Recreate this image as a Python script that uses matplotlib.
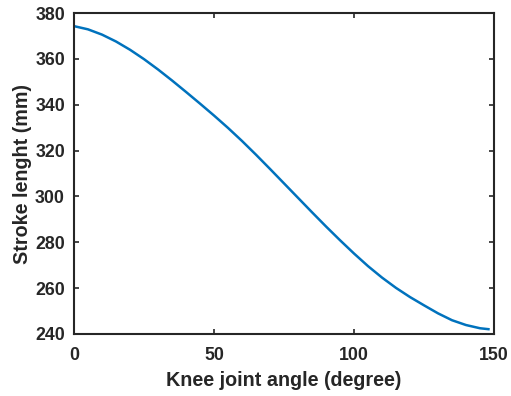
import numpy as np
import matplotlib
matplotlib.use("Agg")
import matplotlib.pyplot as plt

# knee joint angle (degree) and stroke length (mm)
angle = [0, 5, 10, 15, 20, 25, 30, 35, 40, 45, 50, 55, 60, 65, 70, 75,
         80, 85, 90, 95, 100, 105, 110, 115, 120, 125, 130, 135, 140, 145, 148]
stroke = [374.3, 372.9, 370.6, 367.6, 364.0, 359.9, 355.4, 350.6, 345.6, 340.5,
          335.3, 329.9, 324.2, 318.2, 312.0, 305.7, 299.4, 293.1, 286.9, 280.9,
          275.1, 269.6, 264.6, 260.1, 256.1, 252.5, 249.0, 246.0, 243.9, 242.5, 242.1]

xticks = [0, 50, 100, 150]
yticks = [240, 260, 280, 300, 320, 340, 360, 380]

plt.rcParams['font.family'] = ['Liberation Sans', 'DejaVu Sans']
plt.rcParams['font.weight'] = 'bold'

fig = plt.figure(figsize=(5.11, 3.96), dpi=100)
ax = fig.add_axes([0.1448, 0.1566, 0.822, 0.8104])

ax.plot(angle, stroke, color='#0072BD', lw=1.8)

ax.set_xlim(0, 150)
ax.set_ylim(240, 380)
ax.set_xticks(xticks)
ax.set_yticks(yticks)
ax.tick_params(direction='in', length=3.5, width=1.2, top=True, right=True,
               labelsize=12.8, colors='#262626')
ax.tick_params(axis='x', pad=9.5)
ax.tick_params(axis='y', pad=6.5)
for lab in ax.get_xticklabels() + ax.get_yticklabels():
    lab.set_fontweight('bold')
for s in ax.spines.values():
    s.set_linewidth(1.5)
    s.set_color('#262626')

ax.set_xlabel("Knee joint angle (degree)", fontsize=14.2, fontweight='bold', color='#262626')
ax.set_ylabel("Stroke lenght (mm)", fontsize=14.2, fontweight='bold', color='#262626')
ax.xaxis.set_label_coords(0.5, -0.115)
ax.yaxis.set_label_coords(-0.1, 0.5)

fig.savefig("out.png", dpi=100)
